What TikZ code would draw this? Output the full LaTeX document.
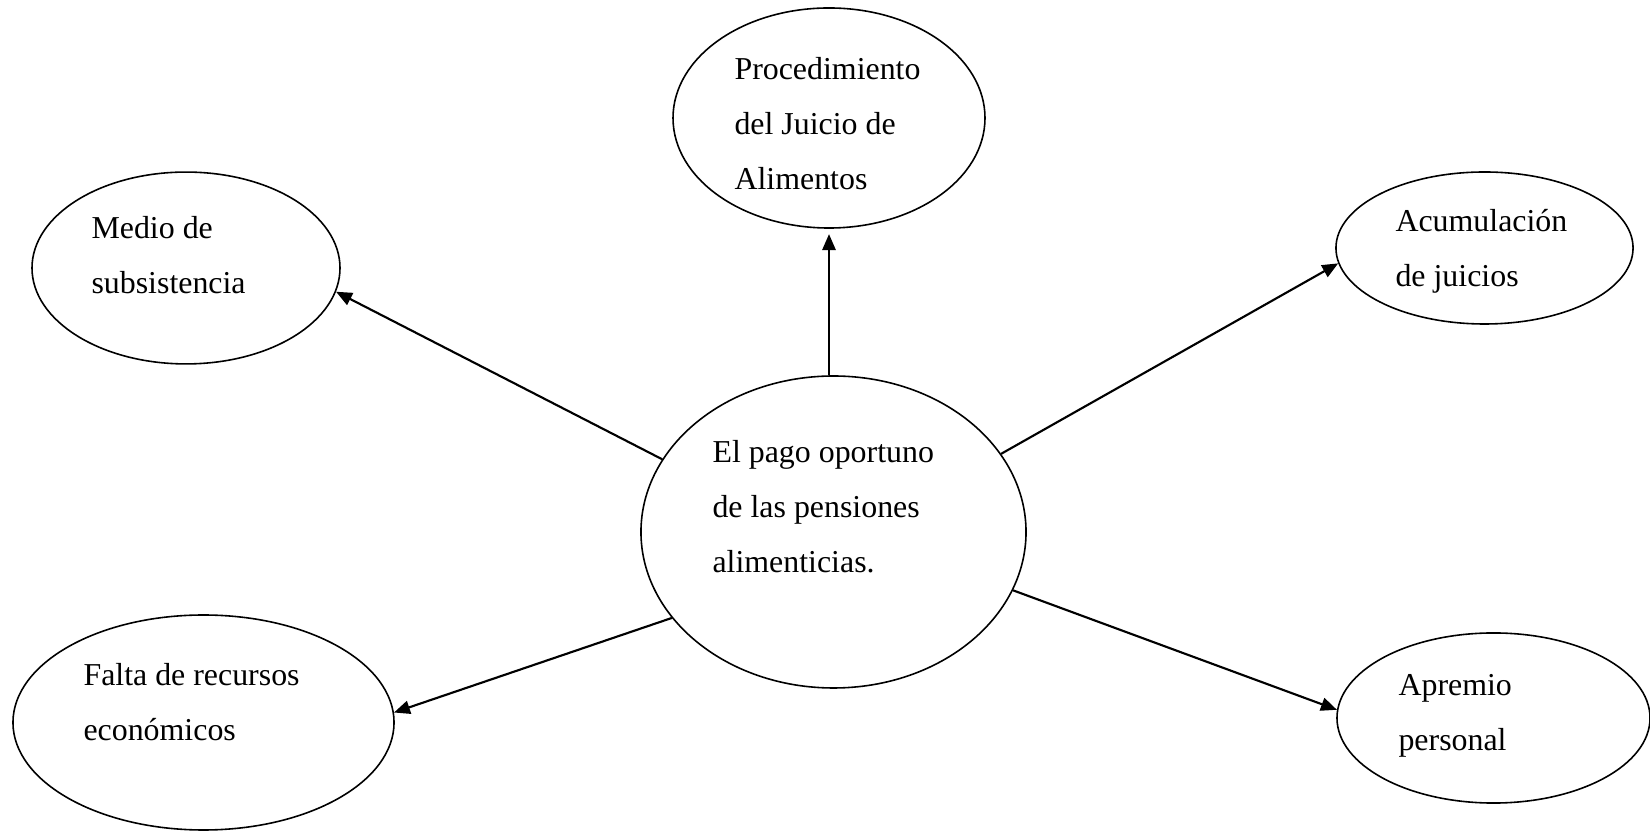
\documentclass[tikz,border=0pt]{standalone}
\usepackage{fontspec}
\setmainfont{Liberation Serif}
\usetikzlibrary{shapes.geometric,arrows.meta}

\begin{document}
\begin{tikzpicture}[x=0.3763pt,y=-0.3763pt,
  bubble/.style={draw,ellipse,line width=0.6pt,inner sep=0pt},
  txt/.style={anchor=base west,align=left,inner sep=0pt,font=\fontsize{12}{20.7}\selectfont},
  link/.style={line width=0.8pt,-{Triangle[length=6pt,width=5pt]}}]
\useasboundingbox (0,0) rectangle (1650,831);
\node[bubble,minimum width=144.9pt,minimum height=117.4pt] (pago) at (833.5,532) {};
\node[bubble,minimum width=117.4pt,minimum height=82.8pt] (proc) at (829,118) {};
\node[bubble,minimum width=115.9pt,minimum height=72.2pt] (medio) at (186,268) {};
\node[bubble,minimum width=111.8pt,minimum height=57.2pt] (acum) at (1484.5,248) {};
\node[bubble,minimum width=143.4pt,minimum height=80.9pt] (falta) at (203.5,722.5) {};
\node[bubble,minimum width=117.8pt,minimum height=64pt] (apremio) at (1493.5,718) {};
\node[txt] (pagotxt) at (712,573) {El pago oportuno\\de las pensiones\\alimenticias.};
\node[txt] (proctxt) at (734,190) {Procedimiento\\del Juicio de\\Alimentos};
\node[txt] (mediotxt) at (91,294) {Medio de\\subsistencia};
\node[txt] (acumtxt) at (1395,287) {Acumulación\\de juicios};
\node[txt] (faltatxt) at (83,741) {Falta de recursos\\económicos};
\node[txt] (apremiotxt) at (1398,751) {Apremio\\personal};
\draw[link,shorten >=2pt] (proc.south |- pago.north) -- (proc.south);
\draw[link] (pago.157) -- (medio.-9);
\draw[link] (pago.25) -- (acum.186);
\draw[link] (pago.208) -- (falta.3);
\draw[link] (pago.-18) -- (apremio.177);
\end{tikzpicture}
\end{document}
